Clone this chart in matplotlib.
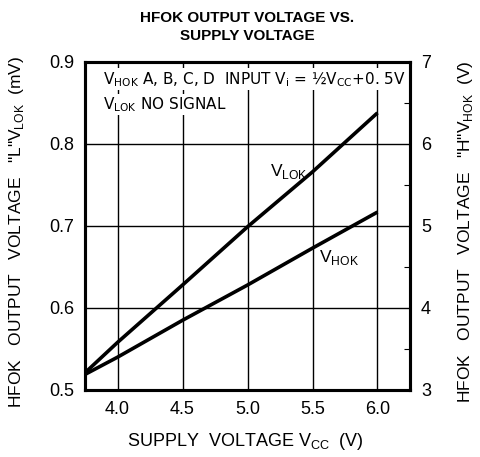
import numpy as np
import matplotlib
matplotlib.use("Agg")
import matplotlib.pyplot as plt
from matplotlib.ticker import MultipleLocator

plt.rcParams['font.family'] = ['Liberation Sans', 'DejaVu Sans']

# data
vcc = [3.75, 4.0, 4.5, 5.0, 5.5, 6.0]
v_lok = [0.521, 0.558, 0.628, 0.699, 0.766, 0.838]   # left axis, mV
v_hok = [3.19, 3.40, 3.85, 4.28, 4.73, 5.17]         # right axis, V

x_ticks = [4.0, 4.5, 5.0, 5.5, 6.0]
x_tick_labels = ["4.0", "4.5", "5.0", "5.5", "6.0"]
y_ticks = [0.5, 0.6, 0.7, 0.8, 0.9]
y2_ticks = [3, 4, 5, 6, 7]

fig = plt.figure(figsize=(4.81, 4.57), dpi=100)
ax = fig.add_axes([85 / 481, 1 - 390 / 457, 325 / 481, 328 / 457])
ax2 = ax.twinx()

ax.set_xlim(3.75, 6.25)
ax.set_ylim(0.5, 0.9)
ax2.set_ylim(3, 7)

ax.set_xticks(x_ticks)
ax.set_xticklabels(x_tick_labels)
ax.set_yticks(y_ticks)
ax.set_yticklabels(["%.1f" % v for v in y_ticks])
ax2.set_yticks(y2_ticks)

ax.tick_params(which='major', length=0, labelsize=13, pad=8)
ax2.tick_params(which='major', length=0, labelsize=13, pad=8)
ax2.yaxis.set_minor_locator(MultipleLocator(0.5))
ax2.tick_params(which='minor', direction='in', length=4, width=0.8)

# grid (only at major ticks)
ax.grid(True, color='black', linewidth=1.0)
ax.set_axisbelow(True)

for a in (ax, ax2):
    for s in a.spines.values():
        s.set_linewidth(2.2)

# curves
ax.plot(vcc, v_lok, color='black', linewidth=2.6, solid_capstyle='butt')
ax2.plot(vcc, v_hok, color='black', linewidth=2.6, solid_capstyle='butt')

# curve labels
ax.text(5.17, 0.767, r"V$_{\mathregular{LOK}}$", fontsize=12.5, va='center', ha='left')
ax.text(5.55, 0.661, r"V$_{\mathregular{HOK}}$", fontsize=12.5, va='center', ha='left')

# condition note
note_font = ['Liberation Sans Narrow', 'DejaVu Sans']
ax.text(3.885, 0.879,
        r"V$_{\mathregular{HOK}}$ A, B, C, D  INPUT V$_{\mathregular{i}}$ = ½V$_{\mathregular{CC}}$+0. 5V",
        fontsize=11, family=note_font, va='center', ha='left',
        bbox=dict(facecolor='white', edgecolor='none', pad=1))
ax.text(3.885, 0.848, r"V$_{\mathregular{LOK}}$ NO SIGNAL",
        fontsize=11, family=note_font, va='center', ha='left',
        bbox=dict(facecolor='white', edgecolor='none', pad=1))

# titles and axis labels
fig.text(247 / 481, 1 - 27 / 457, "HFOK OUTPUT VOLTAGE VS.\nSUPPLY VOLTAGE",
         ha='center', va='center', fontsize=11, fontweight='heavy', linespacing=1.3)
fig.text(245 / 481, 1 - 441 / 457, r"SUPPLY  VOLTAGE V$_{\mathregular{CC}}$  (V)",
         ha='center', va='center', fontsize=13)
fig.text(17 / 481, 1 - 232 / 457,
         r'HFOK   OUTPUT   VOLTAGE   "L"V$_{\mathregular{LOK}}$  (mV)',
         ha='center', va='center', rotation=90, fontsize=12.5)
fig.text(466 / 481, 1 - 232 / 457,
         r'HFOK   OUTPUT   VOLTAGE   "H"V$_{\mathregular{HOK}}$  (V)',
         ha='center', va='center', rotation=90, fontsize=12.5)

fig.savefig("out.png", dpi=100)
